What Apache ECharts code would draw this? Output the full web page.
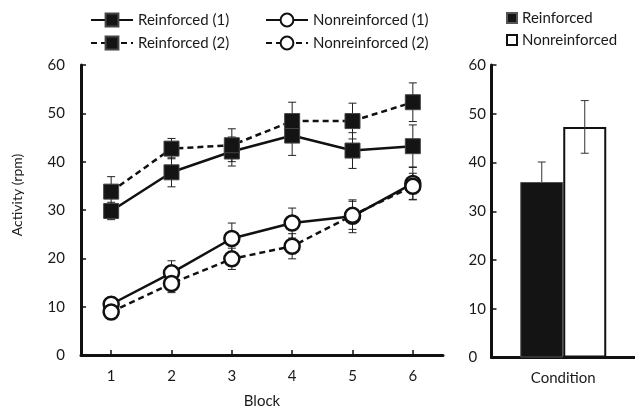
<!DOCTYPE html>
<html>
<head>
<meta charset="utf-8">
<script src="https://cdn.jsdelivr.net/npm/echarts@6/dist/echarts.min.js"></script>
<style>html,body{margin:0;padding:0;background:#fff}#c{width:635px;height:414px}</style>
</head>
<body>
<div id="c"></div>
<script>
const blocks = ['1', '2', '3', '4', '5', '6'];
const reinf1 = [29.8, 37.8, 42.1, 45.4, 42.3, 43.2];
const reinf1Err = [1.8, 3.0, 3.0, 4.1, 3.7, 4.4];
const reinf2 = [33.8, 42.7, 43.4, 48.4, 48.4, 52.3];
const reinf2Err = [3.1, 2.1, 3.4, 3.9, 3.7, 4.0];
const nonreinf1 = [10.5, 17.0, 24.1, 27.3, 28.7, 35.5];
const nonreinf1Err = [1.5, 2.5, 3.2, 3.1, 3.4, 3.4];
const nonreinf2 = [8.9, 14.8, 19.9, 22.5, 28.9, 34.9];
const nonreinf2Err = [1.0, 1.9, 2.2, 2.6, 2.9, 2.7];

const conditions = ['Condition'];
const reinfMean = [36.0];
const reinfMeanErr = [4.1];
const nonreinfMean = [47.3];
const nonreinfMeanErr = [5.4];

const FONT = 'Lato';
const TXT = '#1a1a1a';
const FS = 15;
const chart = echarts.init(document.getElementById('c'), null, {renderer: 'canvas'});

function errData(vals, errs) {
  return vals.map((v, i) => [i, v, errs[i]]);
}
function errRender(offset, color) {
  return function (params, api) {
    const i = api.value(0), v = api.value(1), e = api.value(2);
    const hi = api.coord([i, v + e]);
    const lo = api.coord([i, v - e]);
    const x = hi[0] + offset;
    const cap = 4;
    const st = {stroke: color, lineWidth: 1};
    return {
      type: 'group',
      children: [
        {type: 'line', shape: {x1: x, y1: hi[1], x2: x, y2: lo[1]}, style: st},
        {type: 'line', shape: {x1: x - cap, y1: hi[1], x2: x + cap, y2: hi[1]}, style: st},
        {type: 'line', shape: {x1: x - cap, y1: lo[1], x2: x + cap, y2: lo[1]}, style: st}
      ]
    };
  };
}

const axisLineStyle = {color: '#111', width: 3};
const yAxisCommon = {
  type: 'value', min: 0, max: 60, interval: 10,
  splitLine: {show: false},
  axisLine: {show: true, lineStyle: axisLineStyle},
  axisTick: {show: true, inside: true, length: 5, lineStyle: {color: '#111', width: 1.5}}
};

const squareStyle = {color: '#141414', borderColor: '#444', borderWidth: 1};
const circleStyle = {color: '#fff', borderColor: '#111', borderWidth: 2.5};
const legendText = {fontFamily: FONT, fontSize: FS, color: TXT, lineHeight: 18};

const option = {
  backgroundColor: '#fff',
  animation: false,
  textStyle: {fontFamily: FONT, color: TXT},
  grid: [
    {left: 81, top: 65, width: 362, height: 292.5},
    {left: 491.5, top: 65, width: 148, height: 292.5}
  ],
  legend: [
    {
      orient: 'vertical', left: 90, top: 11, itemGap: 5, padding: 0,
      itemWidth: 42, itemHeight: 16,
      textStyle: legendText,
      data: ['Reinforced (1)', 'Reinforced (2)']
    },
    {
      orient: 'vertical', left: 265, top: 11, itemGap: 5, padding: 0,
      itemWidth: 42, itemHeight: 16,
      textStyle: legendText,
      data: ['Nonreinforced (1)', 'Nonreinforced (2)']
    },
    {
      orient: 'vertical', left: 506, top: 9, itemGap: 4, padding: 0,
      itemWidth: 10, itemHeight: 10, icon: 'rect',
      textStyle: legendText,
      data: ['Reinforced', 'Nonreinforced']
    }
  ],
  xAxis: [
    {
      gridIndex: 0, type: 'category', data: blocks, boundaryGap: true,
      name: 'Block', nameLocation: 'middle', nameGap: 39,
      nameTextStyle: {fontFamily: FONT, fontSize: FS, color: TXT},
      axisLine: {show: true, lineStyle: axisLineStyle},
      axisTick: {show: true, inside: true, alignWithLabel: true, length: 5, lineStyle: {color: '#111', width: 1.5}},
      axisLabel: {fontFamily: FONT, fontSize: FS, color: TXT, margin: 14}
    },
    {
      gridIndex: 1, type: 'category', data: conditions, boundaryGap: true,
      axisLine: {show: true, lineStyle: axisLineStyle},
      axisTick: {show: false},
      axisLabel: {fontFamily: FONT, fontSize: FS, color: TXT, margin: 13}
    }
  ],
  yAxis: [
    Object.assign({}, yAxisCommon, {
      gridIndex: 0,
      name: 'Activity (rpm)', nameLocation: 'middle', nameGap: 57,
      nameTextStyle: {fontFamily: FONT, fontSize: 14, color: TXT, padding: [0, 0, 0, 30]},
      axisLabel: {fontFamily: FONT, fontSize: FS, color: TXT, margin: 16}
    }),
    Object.assign({}, yAxisCommon, {
      gridIndex: 1,
      axisLabel: {fontFamily: FONT, fontSize: FS, color: TXT, margin: 23, align: 'left'}
    })
  ],
  series: [
    {type: 'custom', xAxisIndex: 0, yAxisIndex: 0, z: 1, renderItem: errRender(0, '#222'), data: errData(reinf1, reinf1Err), silent: true},
    {type: 'custom', xAxisIndex: 0, yAxisIndex: 0, z: 1, renderItem: errRender(0, '#222'), data: errData(reinf2, reinf2Err), silent: true},
    {type: 'custom', xAxisIndex: 0, yAxisIndex: 0, z: 1, renderItem: errRender(0, '#222'), data: errData(nonreinf1, nonreinf1Err), silent: true},
    {type: 'custom', xAxisIndex: 0, yAxisIndex: 0, z: 1, renderItem: errRender(0, '#222'), data: errData(nonreinf2, nonreinf2Err), silent: true},
    {
      name: 'Reinforced (1)', type: 'line', xAxisIndex: 0, yAxisIndex: 0, z: 3,
      data: reinf1, symbol: 'rect', symbolSize: 15,
      lineStyle: {color: '#111', width: 2.5, type: 'solid'},
      itemStyle: squareStyle
    },
    {
      name: 'Reinforced (2)', type: 'line', xAxisIndex: 0, yAxisIndex: 0, z: 3,
      data: reinf2, symbol: 'rect', symbolSize: 15,
      lineStyle: {color: '#111', width: 2.5, type: [6, 4]},
      itemStyle: squareStyle
    },
    {
      name: 'Nonreinforced (1)', type: 'line', xAxisIndex: 0, yAxisIndex: 0, z: 3,
      data: nonreinf1, symbol: 'circle', symbolSize: 15,
      lineStyle: {color: '#111', width: 2.5, type: 'solid'},
      itemStyle: circleStyle
    },
    {
      name: 'Nonreinforced (2)', type: 'line', xAxisIndex: 0, yAxisIndex: 0, z: 3,
      data: nonreinf2, symbol: 'circle', symbolSize: 15,
      lineStyle: {color: '#111', width: 2.5, type: [6, 4]},
      itemStyle: circleStyle
    },
    {type: 'custom', xAxisIndex: 1, yAxisIndex: 1, z: 1, renderItem: errRender(-21.5, '#333'), data: errData(reinfMean, reinfMeanErr), silent: true},
    {
      name: 'Reinforced', type: 'bar', xAxisIndex: 1, yAxisIndex: 1, z: 2,
      data: reinfMean, barWidth: 43, barGap: '0%',
      itemStyle: {color: '#141414', borderColor: '#555', borderWidth: 1}
    },
    {
      name: 'Nonreinforced', type: 'bar', xAxisIndex: 1, yAxisIndex: 1, z: 2,
      data: nonreinfMean, barWidth: 43, barGap: '0%',
      itemStyle: {color: '#fff', borderColor: '#111', borderWidth: 2}
    },
    {type: 'custom', xAxisIndex: 1, yAxisIndex: 1, z: 5, renderItem: errRender(21.5, '#333'), data: errData(nonreinfMean, nonreinfMeanErr), silent: true}
  ]
};
chart.setOption(option);
</script>
</body>
</html>
